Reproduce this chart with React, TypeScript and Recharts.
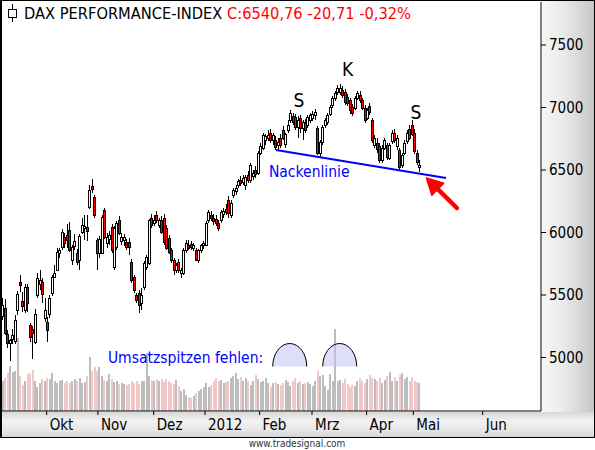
import React from 'react';
import { ComposedChart, Bar, XAxis, YAxis, ReferenceLine, ReferenceDot, Customized } from 'recharts';

// ---- data (DAX daily candles, Sep 2011 - May 2012) ----
const opens = [5330,5400,5190,5120,5150,5130,5380,5604,5452,5380,5564,5260,5228,5124,5500,5590,5604,5316,5284,5348,5516,5644,5700,5836,5884,5964,5980,6020,5780,5890,5836,5780,6004,6036,6044,6204,6370,6284,5940,5840,5836,6180,5916,5950,6044,5724,5884,6100,5930,5940,5924,5924,5764,5644,5500,5516,5436,5564,5724,5756,6116,6076,6140,6060,6100,6116,6036,5956,5860,5780,5700,5764,5676,5676,5860,5900,5908,5876,5860,5780,5860,5900,5900,6100,6140,6120,6110,6076,6100,6150,6190,6260,6140,6300,6330,6380,6420,6404,6380,6460,6420,6456,6500,6476,6640,6680,6740,6756,6796,6740,6740,6700,6760,6820,6708,6820,6900,6932,6924,6844,6916,6836,6880,6860,6900,6916,6940,6836,6636,6724,6860,6884,6950,7020,7076,7124,7124,7140,7124,7084,7060,7004,7000,7080,7100,7060,7000,6920,7010,6900,6700,6720,6690,6580,6680,6700,6600,6730,6800,6690,6660,6540,6640,6730,6830,6860,6800,6640,6525];
const highs = [5480,5470,5220,5150,5230,5340,5530,5660,5524,5590,5590,5280,5250,5390,5676,5700,5640,5476,5324,5500,5660,5740,5876,5880,6030,6000,6070,6084,5900,5990,5870,5990,6120,6140,6140,6380,6430,6300,5960,5970,6140,6200,6000,6010,6070,6050,6090,6130,6000,5990,5950,5960,5790,5660,5520,5540,5560,5770,5820,6110,6150,6140,6170,6120,6130,6150,6060,5980,5880,5800,5760,5790,5720,5880,5940,5940,5930,5920,5880,5870,5910,5930,6090,6180,6170,6150,6140,6100,6180,6200,6230,6290,6260,6360,6380,6430,6450,6460,6460,6490,6560,6500,6530,6650,6720,6800,6790,6820,6830,6800,6770,6760,6790,6850,6800,6900,6980,6960,6950,6930,6940,6900,6910,6940,6960,6970,6990,6850,6740,6860,6920,6960,7020,7090,7130,7180,7190,7170,7150,7110,7080,7030,7090,7130,7130,7080,7020,7000,7040,6920,6780,6760,6720,6700,6760,6720,6720,6820,6830,6780,6680,6640,6740,6820,6860,6900,6830,6660,6580];
const lows = [5300,5180,5080,4970,5110,5110,5340,5524,5364,5360,5364,5124,4985,5110,5480,5540,5440,5284,5124,5316,5492,5636,5690,5800,5860,5880,5880,5844,5740,5860,5740,5700,5990,5940,5930,6190,6320,6120,5700,5800,5830,5950,5880,5900,5840,5700,5860,5980,5900,5890,5860,5820,5600,5520,5440,5360,5380,5540,5700,5740,6040,6050,6080,6040,5990,5900,5860,5830,5760,5660,5680,5680,5640,5660,5840,5860,5860,5850,5770,5760,5840,5870,5890,6080,6090,6060,6050,6010,6080,6120,6140,6116,6120,6280,6300,6360,6370,6380,6340,6400,6400,6420,6440,6460,6620,6660,6700,6730,6720,6700,6660,6660,6680,6740,6680,6800,6880,6860,6820,6760,6800,6740,6800,6840,6880,6890,6900,6620,6600,6700,6840,6860,6930,7000,7050,7100,7100,7080,7020,7010,6950,6930,6980,7060,7040,6980,6880,6900,6940,6720,6680,6640,6560,6560,6660,6580,6580,6710,6720,6660,6500,6520,6620,6710,6740,6770,6630,6540,6484];
const closes = [5420,5200,5120,5140,5180,5300,5510,5580,5412,5564,5436,5164,5196,5348,5636,5620,5508,5380,5220,5476,5644,5676,5844,5860,6004,5916,5940,5860,5884,5930,5764,5972,6060,6052,6012,6340,6350,6140,5836,5950,6124,5964,5964,5980,5860,6036,6076,5996,5964,5960,5884,5884,5620,5540,5460,5420,5500,5756,5804,6100,6060,6100,6100,6100,6004,5924,5876,5844,5780,5700,5740,5700,5700,5860,5916,5876,5884,5900,5780,5860,5900,5916,6076,6164,6116,6092,6076,6036,6164,6172,6164,6156,6240,6340,6356,6412,6396,6436,6444,6420,6540,6476,6468,6636,6696,6780,6770,6780,6740,6780,6684,6724,6700,6760,6788,6860,6956,6884,6844,6900,6836,6884,6820,6924,6940,6948,6964,6636,6724,6844,6900,6940,7004,7076,7116,7156,7156,7100,7044,7036,6980,6956,7076,7116,7060,7000,6900,6980,6964,6740,6760,6664,6580,6680,6740,6604,6700,6800,6740,6760,6524,6620,6720,6800,6760,6790,6650,6561.47,6540.76];
const volumes = [30,33,38,45,39,40,73,35,26,30,37,38,41,30,24,28,32,30,33,32,38,30,28,30,31,28,30,28,30,32,30,33,28,29,35,54,40,44,40,44,35,31,30,37,32,29,30,27,28,27,26,27,30,28,30,27,30,30,58,35,31,30,32,30,32,29,32,30,28,27,31,25,20,22,16,14,13,15,18,20,22,24,28,24,26,30,33,30,31,28,29,30,33,35,38,32,34,30,33,30,26,30,36,32,29,30,33,28,24,28,29,27,26,28,31,29,25,30,33,28,30,27,28,29,27,25,30,40,35,36,25,21,37,30,82,30,31,28,32,27,24,26,25,30,33,30,28,32,36,33,32,30,33,28,31,35,39,30,34,30,36,38,32,34,30,34,30,29,28];

const monthTicks = [17.62, 38.26, 60.76, 81.44, 103.46, 124.58, 146.6, 165.42, 193.4];
const monthLabels = ['Okt', 'Nov', 'Dez', '2012', 'Feb', 'Mrz', 'Apr', 'Mai', 'Jun'];
const priceTicks = [5000, 5500, 6000, 6500, 7000, 7500];

// annotation anchors (index, price) / (index, volume)
const necklinePts = [{ x: 110.07, y: 6660 }, { x: 178.6, y: 6436 }];
const arrowPts = [{ x: 183.0, y: 6196 }, { x: 170.7, y: 6436 }];
const domeIdx = [115.6, 135.75];

const FONT = "'DejaVu Sans Condensed', 'DejaVu Sans', sans-serif";

const data = closes.map((c, i) => ({
  i,
  open: opens[i],
  high: highs[i],
  low: lows[i],
  close: c,
  range: [lows[i], highs[i]],
  vol: volumes[i],
}));

const lastClose = closes[closes.length - 1];
const prevClose = closes[closes.length - 2];
const chg = lastClose - prevClose;
const pct = (chg / prevClose) * 100;
const de = (v: number) => v.toFixed(2).replace('.', ',');
const titleRed = `C:${de(lastClose)} ${de(chg)} ${de(pct)}%`;

const Candle = (props: any) => {
  const { x, y, width, height, payload } = props;
  if (x == null || payload == null) return null;
  const { open, close, high, low } = payload;
  const cx = Math.floor(x + width / 2) + 0.5;
  const ppu = high > low ? height / (high - low) : 0;
  const yOf = (v: number) => y + (high - v) * ppu;
  const top = Math.round(yOf(Math.max(open, close))) + 0.5;
  const bot = Math.round(yOf(Math.min(open, close))) + 0.5;
  const up = close >= open;
  return (
    <g>
      <line x1={cx} x2={cx} y1={y} y2={y + height} stroke="#000" strokeWidth={1} shapeRendering="crispEdges" />
      <rect x={cx - 1} y={top} width={2} height={Math.max(bot - top, 1)} fill={up ? '#fff' : '#f00'} stroke="#000" strokeWidth={1} shapeRendering="crispEdges" />
    </g>
  );
};

const VolBar = (props: any) => {
  const { x, y, width, height, payload } = props;
  if (x == null || payload == null) return null;
  const cx = x + width / 2;
  const up = payload.close >= payload.open;
  return <rect x={Math.round(cx) - 1} y={y} width={2} height={height} fill={up ? '#bdbdbd' : '#f1c8c8'} shapeRendering="crispEdges" />;
};

const MonthTick = (props: any) => {
  const { x, y, payload } = props;
  const idx = monthTicks.indexOf(payload.value);
  return (
    <text x={x + 3} y={y} dy={13} fontSize={15} fontFamily={FONT} fill="#000" textAnchor="start">
      {monthLabels[idx]}
    </text>
  );
};

const PriceTick = (props: any) => {
  const { x, y, payload } = props;
  return (
    <text x={x} y={y} dy={5} fontSize={15} fontFamily={FONT} fill="#000" textAnchor="start">
      {payload.value}
    </text>
  );
};

const textMark = (txt: string, size: number, color: string, anchor: 'start' | 'middle') => (p: any) => (
  <text x={p.cx} y={p.cy} fontSize={size} fontFamily={FONT} fill={color} textAnchor={anchor}>
    {txt}
  </text>
);

const Dome = (p: any) => (
  <path d={`M${p.cx - 17},${p.cy} A17,23 0 0 1 ${p.cx + 17},${p.cy}`} fill="#c2c2f2" fillOpacity={0.55} stroke="#000" strokeWidth={1} />
);

const Arrow = (p: any) => {
  const { x1, y1, x2, y2 } = p;
  if (x1 == null) return null;
  const ang = Math.atan2(y2 - y1, x2 - x1);
  const len = 16;
  const half = 8.5;
  const bx = x2 - len * Math.cos(ang);
  const by = y2 - len * Math.sin(ang);
  const px = -Math.sin(ang) * half;
  const py = Math.cos(ang) * half;
  return (
    <g>
      <line x1={x1} y1={y1} x2={bx} y2={by} stroke="#f00" strokeWidth={4.5} strokeLinecap="round" />
      <polygon points={`${x2},${y2} ${bx + px},${by + py} ${bx - px},${by - py}`} fill="#f00" stroke="#f00" strokeWidth={1.5} strokeLinejoin="round" />
    </g>
  );
};

const Title = () => (
  <g>
    <line x1={12.5} x2={12.5} y1={4} y2={22} stroke="#000" strokeWidth={1} shapeRendering="crispEdges" />
    <rect x={8.5} y={9.5} width={8} height={8} fill="#fff" stroke="#000" strokeWidth={1} shapeRendering="crispEdges" />
    <text x={24} y={19} fontSize={16.3} fontFamily={FONT} fill="#000">
      DAX PERFORMANCE-INDEX <tspan fill="#f00">{titleRed}</tspan>
    </text>
    <text x={297} y={447} fontSize={10} fontFamily={FONT} fill="#333" textAnchor="middle">
      www.tradesignal.com
    </text>
  </g>
);

export default function App() {
  return (
    <div style={{ position: 'absolute', left: 0, top: 0, width: 595, height: 450, background: '#fff' }}>
      {/* right price panel */}
      <div style={{ position: 'absolute', left: 542, top: 0, width: 53, height: 438, background: 'linear-gradient(to right, #f6f6f6 0%, #ececec 35%, #dcdcdc 65%, #c4c4c4 100%)' }} />
      {/* bottom time band */}
      <div style={{ position: 'absolute', left: 0, top: 412, width: 595, height: 26, background: 'linear-gradient(to bottom, #d8d8d8 0%, #f2f2f2 35%, #e6e6e6 70%, #d4d4d4 100%)' }} />
      {/* frame */}
      <div style={{ position: 'absolute', left: 0, top: 0, width: 595, height: 438, boxSizing: 'border-box', borderTop: '1px solid #000', borderLeft: '2px solid #000', borderRight: '1px solid #000', borderBottom: '1px solid #000' }} />
      <div style={{ position: 'absolute', left: 0, top: 0 }}>
        <ComposedChart width={595} height={450} data={data} margin={{ top: 2, right: 0, bottom: 9, left: 2 }}>
          <XAxis
            xAxisId="p"
            dataKey="i"
            type="number"
            domain={[-0.4, 216.9]}
            ticks={monthTicks}
            interval={0}
            allowDataOverflow
            height={30}
            tickSize={4}
            tickLine={{ stroke: '#000' }}
            axisLine={{ stroke: '#000' }}
            tick={<MonthTick />}
          />
          <XAxis xAxisId="v" dataKey="i" type="number" domain={[-0.4, 216.9]} allowDataOverflow hide />
          <YAxis
            yAxisId="price"
            orientation="right"
            domain={[4572, 7844]}
            ticks={priceTicks}
            interval={0}
            allowDataOverflow
            width={54}
            tickSize={5}
            tickMargin={3}
            tickLine={{ stroke: '#000' }}
            axisLine={{ stroke: '#000' }}
            tick={<PriceTick />}
          />
          <YAxis yAxisId="vol" domain={[0, 409]} allowDataOverflow hide />
          <Bar xAxisId="v" yAxisId="vol" dataKey="vol" barSize={2} shape={<VolBar />} isAnimationActive={false} />
          <Bar xAxisId="p" yAxisId="price" dataKey="range" barSize={3} shape={<Candle />} isAnimationActive={false} />
          <ReferenceLine xAxisId="p" yAxisId="price" segment={necklinePts} stroke="#0000ff" strokeWidth={2} />
          <ReferenceLine xAxisId="p" yAxisId="price" segment={arrowPts} shape={<Arrow />} />
          <ReferenceDot xAxisId="v" yAxisId="vol" x={domeIdx[0]} y={44.5} r={17} shape={<Dome />} />
          <ReferenceDot xAxisId="v" yAxisId="vol" x={domeIdx[1]} y={44.5} r={17} shape={<Dome />} />
          <ReferenceDot xAxisId="v" yAxisId="vol" x={42.3} y={48} r={1} shape={textMark('Umsatzspitzen fehlen:', 15.5, '#0000ff', 'start')} />
          <ReferenceDot xAxisId="p" yAxisId="price" x={107.2} y={6444} r={1} shape={textMark('Nackenlinie', 15.5, '#0000ff', 'start')} />
          <ReferenceDot xAxisId="p" yAxisId="price" x={119.3} y={7004} r={1} shape={textMark('S', 19, '#000', 'middle')} />
          <ReferenceDot xAxisId="p" yAxisId="price" x={138.9} y={7252} r={1} shape={textMark('K', 19, '#000', 'middle')} />
          <ReferenceDot xAxisId="p" yAxisId="price" x={166.5} y={6908} r={1} shape={textMark('S', 19, '#000', 'middle')} />
          <Customized component={Title} />
        </ComposedChart>
      </div>
    </div>
  );
}
